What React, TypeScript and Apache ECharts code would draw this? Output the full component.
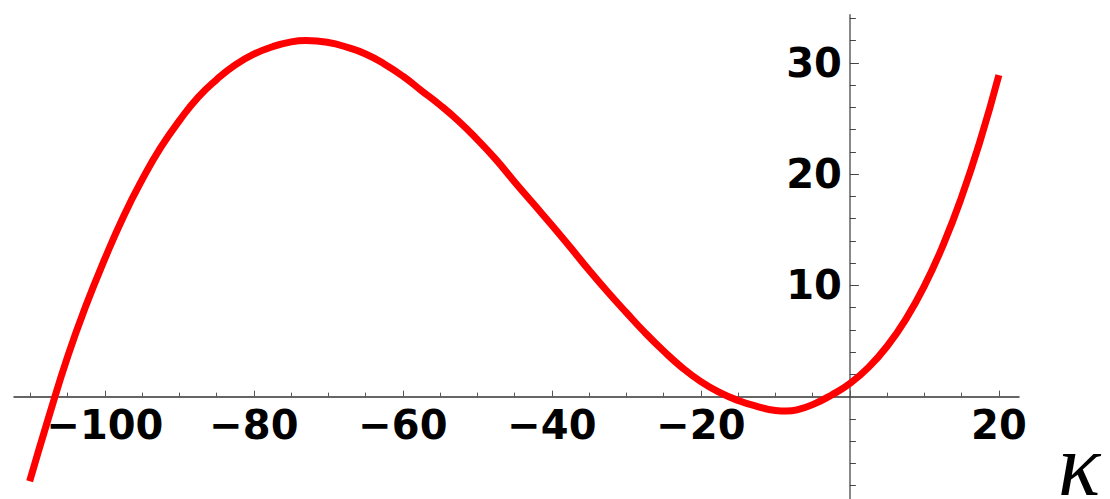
import React, { useEffect, useRef } from "react";
import * as echarts from "echarts";

// Curve points (kappa, value)
const kappaValues = [
  -110.1, -107.5, -105, -102.5, -100, -97.5, -95, -92.5, -90, -87.5, -85,
  -82.5, -80, -77.5, -75, -73, -70, -67.5, -65, -62.5, -60, -57.5, -55,
  -52.5, -50, -47.5, -45, -42.5, -40, -37.5, -35, -32.5, -30, -27.5, -25,
  -22.5, -20, -17.5, -15, -12.5, -10, -8.5, -7, -5, -2.5, 0, 2.5, 5, 7.5,
  10, 12.5, 15, 17.5, 20,
];
const curveValues = [
  -7.6, -1.75, 3.6, 8.25, 12.4, 16.2, 19.5, 22.4, 24.8, 26.9, 28.5,
  29.82, 30.78, 31.45, 31.88, 32.0, 31.83, 31.4, 30.8, 29.9, 28.8, 27.5, 26.2,
  24.75, 23.1, 21.3, 19.3, 17.35, 15.4, 13.4, 11.35, 9.4, 7.55, 5.75, 4.1,
  2.6, 1.35, 0.38, -0.35, -0.87, -1.24, -1.3, -1.17, -0.72, 0.13, 1.18, 2.63,
  4.53, 6.95, 9.95, 13.6, 17.95, 23.03, 28.9,
];

const xMajorTicks = [-100, -80, -60, -40, -20, 0, 20];
const xMinorTicks = [
  -110, -105, -95, -90, -85, -75, -70, -65, -55, -50, -45, -35, -30, -25,
  -15, -10, -5, 5, 10, 15,
];
const xTickLabels = [-100, -80, -60, -40, -20, 20];
const yMajorTicks = [10, 20, 30];
const yMinorTicks = [
  -8, -6, -4, -2, 2, 4, 6, 8, 12, 14, 16, 18, 22, 24, 26, 28, 32, 34,
];
const yTickLabels = [10, 20, 30];
const axisTitle = "κ";

const fmt = (v: number) => (v < 0 ? "\u2212" + Math.abs(v) : String(v));

export default function App() {
  const ref = useRef<HTMLDivElement>(null);
  useEffect(() => {
    if (!ref.current) return;
    const chart = echarts.init(ref.current, null, { renderer: "svg" });
    const labelFont = {
      fontFamily: "DejaVu Sans",
      fontWeight: "bold" as const,
      fontSize: 40,
      color: "#000",
    };
    const xMin = -112.2;
    const xMax = 22.7;
    const yMin = -9.2;
    const yMax = 34.3;
    const gridLeft = 14;
    const gridWidth = 1005;
    const gridTop = 15;
    const gridHeight = 484;
    // place the axes where the other axis is zero
    const xOffset = -((0 - yMin) / (yMax - yMin)) * gridHeight;
    const yOffset = -((0 - xMin) / (xMax - xMin)) * gridWidth;
    chart.setOption({
      animation: false,
      grid: {
        left: gridLeft,
        width: gridWidth,
        top: gridTop,
        height: gridHeight,
        containLabel: false,
        outerBoundsMode: "none",
      },
      xAxis: [
        {
          type: "value",
          min: xMin,
          max: xMax,
          position: "bottom",
          offset: xOffset,
          splitLine: { show: false },
          axisLine: { onZero: false, lineStyle: { color: "#333", width: 1.5 } },
          axisTick: {
            inside: true,
            length: 6,
            customValues: xMajorTicks,
            lineStyle: { color: "#555", width: 1 },
          },
          axisLabel: {
            ...labelFont,
            margin: 8,
            customValues: xTickLabels,
            formatter: fmt,
          },
        },
        {
          type: "value",
          min: xMin,
          max: xMax,
          position: "bottom",
          offset: xOffset,
          splitLine: { show: false },
          axisLine: { show: false, onZero: false },
          axisTick: {
            inside: true,
            length: 4,
            customValues: xMinorTicks,
            lineStyle: { color: "#555", width: 1 },
          },
          axisLabel: { show: false },
        },
      ],
      yAxis: [
        {
          type: "value",
          min: yMin,
          max: yMax,
          position: "left",
          offset: yOffset,
          splitLine: { show: false },
          axisLine: { onZero: false, lineStyle: { color: "#888", width: 2 } },
          axisTick: {
            inside: true,
            length: 9,
            customValues: yMajorTicks,
            lineStyle: { color: "#444", width: 1 },
          },
          axisLabel: {
            ...labelFont,
            margin: 8,
            customValues: yTickLabels,
            formatter: fmt,
          },
        },
        {
          type: "value",
          min: yMin,
          max: yMax,
          position: "left",
          offset: yOffset,
          splitLine: { show: false },
          axisLine: { show: false, onZero: false },
          axisTick: {
            inside: true,
            length: 6,
            customValues: yMinorTicks,
            lineStyle: { color: "#444", width: 1 },
          },
          axisLabel: { show: false },
        },
      ],
      graphic: [
        {
          type: "text",
          x: 1058,
          y: 465,
          style: {
            text: axisTitle,
            fontFamily: "Liberation Serif",
            fontStyle: "italic",
            fontSize: 88,
            fill: "#000",
            align: "left",
            verticalAlign: "middle",
          },
        },
      ],
      series: [
        {
          type: "line",
          xAxisIndex: 0,
          yAxisIndex: 0,
          data: kappaValues.map((k, i) => [k, curveValues[i]]),
          smooth: 0.5,
          showSymbol: false,
          lineStyle: { color: "#ff0000", width: 7, cap: "butt" },
          z: 5,
        },
      ],
    });
    return () => chart.dispose();
  }, []);
  return (
    <div
      ref={ref}
      style={{ position: "fixed", left: 0, top: 0, width: 1110, height: 499, background: "#fff" }}
    />
  );
}
